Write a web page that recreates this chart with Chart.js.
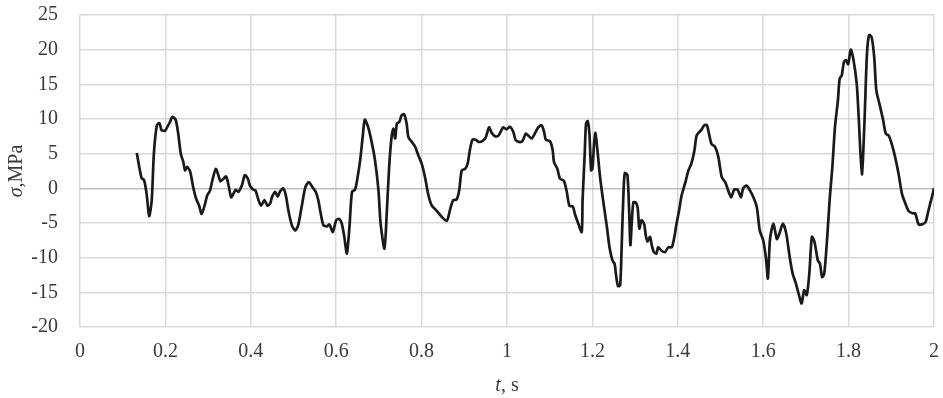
<!DOCTYPE html>
<html>
<head>
<meta charset="utf-8">
<script src="https://cdn.jsdelivr.net/npm/chart.js@4"></script>
<style>
    html, body { margin: 0; padding: 0; background: #fff; }
    #wrap { width: 943px; height: 398px; }
</style>
</head>
<body>
<div id="wrap"><canvas id="chart"></canvas></div>
<script>
// time, s
var tValues = [
    0.133, 0.144, 0.150, 0.156, 0.162, 0.168, 0.173, 0.180, 0.186, 0.191, 0.199, 0.204, 0.211, 0.216, 0.224, 0.230,
    0.236, 0.242, 0.246, 0.251, 0.258, 0.265, 0.272, 0.279, 0.285, 0.293, 0.298, 0.304, 0.311, 0.318, 0.324, 0.329,
    0.336, 0.342, 0.347, 0.354, 0.359, 0.365, 0.371, 0.379, 0.386, 0.393, 0.398, 0.406, 0.411, 0.418, 0.424, 0.432,
    0.439, 0.445, 0.450, 0.457, 0.463, 0.468, 0.476, 0.482, 0.488, 0.496, 0.504, 0.511, 0.519, 0.528, 0.536, 0.544,
    0.552, 0.558, 0.564, 0.570, 0.578, 0.584, 0.592, 0.600, 0.607, 0.613, 0.619, 0.625, 0.631, 0.637, 0.644, 0.649,
    0.656, 0.662, 0.667, 0.675, 0.683, 0.691, 0.699, 0.704, 0.713, 0.718, 0.724, 0.730, 0.734, 0.738, 0.742, 0.748,
    0.753, 0.759, 0.765, 0.769, 0.777, 0.785, 0.792, 0.800, 0.808, 0.816, 0.824, 0.835, 0.847, 0.859, 0.867, 0.874,
    0.882, 0.888, 0.894, 0.902, 0.908, 0.913, 0.919, 0.927, 0.933, 0.942, 0.950, 0.958, 0.964, 0.972, 0.980, 0.987,
    0.991, 0.999, 1.007, 1.015, 1.020, 1.028, 1.036, 1.044, 1.050, 1.058, 1.066, 1.073, 1.081, 1.087, 1.091, 1.101,
    1.107, 1.110, 1.118, 1.124, 1.133, 1.140, 1.146, 1.154, 1.159, 1.167, 1.175, 1.177, 1.182, 1.185, 1.189, 1.193,
    1.197, 1.200, 1.204, 1.207, 1.211, 1.218, 1.225, 1.234, 1.240, 1.247, 1.252, 1.256, 1.260, 1.265, 1.269, 1.273,
    1.276, 1.282, 1.286, 1.289, 1.292, 1.296, 1.302, 1.306, 1.310, 1.315, 1.321, 1.325, 1.329, 1.335, 1.339, 1.344,
    1.350, 1.354, 1.362, 1.370, 1.378, 1.386, 1.392, 1.397, 1.403, 1.409, 1.417, 1.425, 1.432, 1.439, 1.444, 1.450,
    1.456, 1.462, 1.468, 1.473, 1.479, 1.487, 1.495, 1.503, 1.511, 1.518, 1.525, 1.532, 1.540, 1.548, 1.553, 1.561,
    1.569, 1.577, 1.585, 1.592, 1.600, 1.607, 1.611, 1.616, 1.624, 1.632, 1.638, 1.646, 1.654, 1.662, 1.669, 1.677,
    1.685, 1.690, 1.696, 1.702, 1.708, 1.714, 1.720, 1.728, 1.733, 1.738, 1.743, 1.750, 1.756, 1.762, 1.768, 1.775,
    1.779, 1.784, 1.789, 1.794, 1.799, 1.805, 1.811, 1.819, 1.824, 1.831, 1.837, 1.843, 1.848, 1.854, 1.860, 1.865,
    1.873, 1.881, 1.887, 1.894, 1.901, 1.909, 1.917, 1.925, 1.933, 1.941, 1.950, 1.956, 1.964, 1.972, 1.980, 1.987,
    1.997, 2.000
];

// stress, MPa
var sigmaValues = [
    5.1, 1.5, 1.2, -0.8, -4.0, -1.7, 5.0, 9.1, 9.4, 8.4, 8.3, 8.8, 9.6, 10.3, 9.9, 7.9,
    5.0, 3.8, 2.6, 3.1, 2.4, 0.2, -1.5, -2.5, -3.7, -2.2, -1.0, -0.4, 1.4, 2.8, 1.9, 1.0,
    1.4, 1.7, 0.7, -1.3, -0.8, -0.2, -0.5, 0.4, 1.9, 1.4, 0.4, -0.2, -0.3, -1.7, -2.5, -1.7,
    -2.5, -2.2, -1.2, -0.5, -1.2, -0.5, 0.0, -1.0, -3.2, -5.3, -6.1, -5.3, -2.7, 0.2, 0.9, 0.2,
    -0.5, -1.7, -3.7, -5.3, -5.5, -5.2, -6.3, -4.6, -4.4, -5.1, -7.0, -9.4, -5.6, -0.5, -0.2, 1.2,
    4.0, 7.4, 9.9, 8.8, 6.7, 4.0, -0.3, -5.1, -8.7, -4.1, 3.1, 7.6, 8.6, 7.2, 9.3, 9.6,
    10.5, 10.7, 9.3, 7.4, 6.7, 6.0, 4.8, 3.6, 1.6, -1.0, -2.5, -3.2, -4.1, -4.7, -3.0, -1.7,
    -1.6, -0.3, 2.6, 2.8, 3.6, 5.5, 7.0, 7.0, 6.7, 6.8, 7.3, 8.8, 8.0, 7.5, 7.6, 8.4,
    8.8, 8.5, 8.9, 8.1, 7.0, 6.7, 6.8, 7.9, 7.6, 7.2, 8.0, 8.8, 9.1, 8.1, 7.0, 6.8,
    5.5, 3.8, 2.8, 1.4, 1.1, -0.5, -2.5, -2.6, -3.7, -5.1, -6.3, -1.7, 5.0, 9.3, 9.7, 7.9,
    2.6, 2.8, 6.5, 8.0, 6.0, 1.6, -1.7, -5.6, -8.5, -10.4, -10.9, -12.8, -14.1, -14.0, -7.5, -0.3,
    2.2, 1.9, -3.2, -8.2, -5.1, -2.0, -2.1, -2.8, -5.8, -4.6, -5.1, -6.8, -7.7, -7.0, -8.2, -9.2,
    -9.4, -8.5, -9.0, -9.2, -8.5, -8.5, -7.0, -5.1, -3.2, -1.0, 0.7, 2.6, 3.6, 5.5, 7.6, 8.1,
    8.5, 9.1, 9.1, 7.9, 6.4, 6.0, 4.5, 1.6, 0.9, -0.3, -1.3, -0.2, -0.2, -1.3, 0.0, 0.4,
    -0.3, -1.3, -2.7, -6.1, -7.5, -10.4, -13.0, -7.3, -5.1, -7.3, -6.5, -5.1, -6.5, -9.9, -12.3, -13.8,
    -15.7, -16.6, -14.7, -15.4, -12.3, -7.0, -7.7, -10.4, -10.9, -12.8, -12.3, -7.0, -1.3, 3.1, 8.8, 12.7,
    15.8, 16.3, 18.2, 18.5, 17.9, 20.0, 18.7, 15.1, 9.8, 2.0, 9.3, 19.4, 22.1, 21.8, 18.9, 14.1,
    12.0, 9.8, 7.9, 7.6, 6.4, 4.5, 2.1, -0.8, -2.2, -3.3, -3.6, -3.6, -5.2, -5.2, -4.9, -3.2,
    -0.8, 0.0
];

var xTicks = [0, 0.2, 0.4, 0.6, 0.8, 1, 1.2, 1.4, 1.6, 1.8, 2];
var yTicks = [-20, -15, -10, -5, 0, 5, 10, 15, 20, 25];

var serif = '"Liberation Serif", "Times New Roman", serif';
var textColor = '#3a3a3a';

var points = tValues.map(function (t, i) {
    return {x: t, y: sigmaValues[i]};
});

function noPadding(scale) {
    scale.paddingTop = 0;
    scale.paddingBottom = 0;
    scale.paddingLeft = 0;
    scale.paddingRight = 0;
}

// axis titles with italic symbol part
function drawMixed(ctx, parts, x, y) {
    var total = 0;
    parts.forEach(function (p) {
        ctx.font = p[1] + ' 20px ' + serif;
        total += ctx.measureText(p[0]).width;
    });
    var cx = x - total / 2;
    parts.forEach(function (p) {
        ctx.font = p[1] + ' 20px ' + serif;
        ctx.fillText(p[0], cx, y);
        cx += ctx.measureText(p[0]).width;
    });
}

var axisTitles = {
    id: 'axisTitles',
    afterDraw: function (chart) {
        var ctx = chart.ctx;
        var area = chart.chartArea;
        ctx.save();
        ctx.fillStyle = textColor;
        ctx.textBaseline = 'middle';
        ctx.textAlign = 'left';
        drawMixed(ctx, [['t', 'italic'], [', s', 'normal']], (area.left + area.right) / 2, 386);
        ctx.translate(17, (area.top + area.bottom) / 2);
        ctx.rotate(-Math.PI / 2);
        drawMixed(ctx, [['σ', 'italic'], [',MPa', 'normal']], 0, 0);
        ctx.restore();
    }
};

new Chart(document.getElementById('chart'), {
    type: 'line',
    data: {
        datasets: [{
            data: points,
            borderColor: '#1a1a1a',
            borderWidth: 2.7,
            pointRadius: 0,
            tension: 0.25,
            fill: false
        }]
    },
    options: {
        responsive: true,
        maintainAspectRatio: false,
        animation: false,
        layout: {
            padding: {top: 15, right: 9, left: 0, bottom: 0}
        },
        plugins: {
            legend: {display: false},
            tooltip: {enabled: false}
        },
        scales: {
            x: {
                type: 'linear',
                min: 0,
                max: 2,
                afterBuildTicks: function (scale) {
                    scale.ticks = xTicks.map(function (v) { return {value: v}; });
                },
                afterFit: function (scale) {
                    scale.height = 71;
                    noPadding(scale);
                },
                ticks: {
                    padding: 13,
                    color: textColor,
                    font: {family: serif, size: 20},
                    maxRotation: 0,
                    callback: function (value) {
                        return String(Math.round(value * 10) / 10);
                    }
                },
                grid: {
                    color: '#d9d9d9',
                    lineWidth: 1.5,
                    drawTicks: false
                },
                border: {display: false}
            },
            y: {
                min: -20,
                max: 25,
                afterBuildTicks: function (scale) {
                    scale.ticks = yTicks.map(function (v) { return {value: v}; });
                },
                afterFit: function (scale) {
                    scale.width = 80;
                    noPadding(scale);
                },
                ticks: {
                    padding: 22,
                    color: textColor,
                    font: {family: serif, size: 20}
                },
                grid: {
                    color: function (c) {
                        return c.tick && c.tick.value === 0 ? '#bdbdbd' : '#d9d9d9';
                    },
                    lineWidth: 1.5,
                    drawTicks: false
                },
                border: {display: false}
            }
        }
    },
    plugins: [axisTitles]
});
</script>
</body>
</html>
